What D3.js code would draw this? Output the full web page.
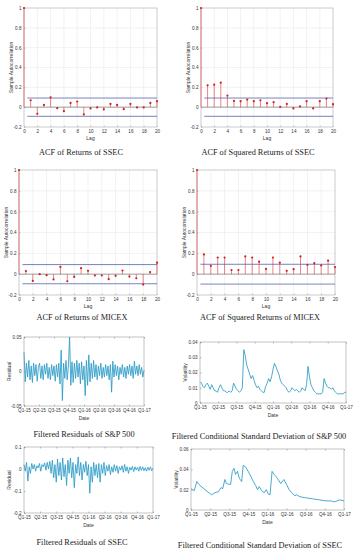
<!DOCTYPE html>
<html>
<head>
<meta charset="utf-8">
<script src="https://cdn.jsdelivr.net/npm/d3@7"></script>
<style>
  body { margin: 0; background: #fff; }
  svg { display: block; }
  .tick text { font-family: "Liberation Sans", Arial, sans-serif; font-size: 4.6px; fill: #333; }
  .lab { font-family: "Liberation Sans", Arial, sans-serif; font-size: 5px; fill: #333; }
  .title { font-family: "Liberation Serif", "Times New Roman", serif; font-size: 8.3px; fill: #222; }
</style>
</head>
<body>
<svg id="chart"></svg>
<script>
// Chart size
const width = 355;
const height = 550;

// ACF values for lags 0..20
const lags = d3.range(0, 21);
const acfRetSSEC = [1, 0.07, -0.067, 0.023, 0.10, -0.01, -0.04, 0.043, 0.057, -0.073, -0.013,
  -0.003, -0.023, 0.033, 0.023, -0.02, 0.033, -0.003, -0.003, 0.043, 0.06];
const acfSqSSEC = [1, 0.22, 0.227, 0.247, 0.117, 0.063, 0.06, 0.077, 0.06, 0.07, 0.04,
  0.05, 0.003, 0.033, -0.013, 0.007, 0.06, -0.013, 0.06, 0.087, 0.03];
const acfRetMICEX = [1, 0.03, -0.065, 0.0, -0.01, -0.05, 0.07, -0.068, -0.026, 0.058, 0.032,
  -0.013, -0.013, -0.048, -0.016, 0.035, -0.023, -0.039, -0.1, 0.02, 0.11];
const acfSqMICEX = [1, 0.19, 0.08, 0.16, 0.16, 0.04, 0.04, 0.17, 0.16, 0.12, 0.05,
  0.16, 0.11, 0.032, 0.048, 0.17, 0.09, 0.106, 0.084, 0.13, 0.068];
// confidence bounds of each ACF panel
const confBounds = [0.092, 0.092, 0.092, 0.095];

// Quarter tick labels
const quarterLabels = ["Q1-15", "Q2-15", "Q3-15", "Q4-15", "Q1-16", "Q2-16", "Q3-16", "Q4-16", "Q1-17"];

// Filtered residuals of S&P 500 (evenly spaced over the 8 quarters)
const residSP = [0.028, -0.015, 0.012, -0.008, 0.016, -0.012, 0.008, -0.016, 0.012, -0.006,
  0.010, -0.014, 0.006, 0.012, -0.010, 0.008, -0.012, 0.010, -0.004, 0.012,
  -0.010, 0.006, -0.012, 0.010, -0.006, 0.008, -0.014, 0.010, -0.008, 0.012,
  -0.018, 0.031, -0.042, 0.012, -0.010, 0.016, -0.012, 0.008, 0.050, -0.020,
  0.014, -0.016, 0.012, -0.010, 0.016, -0.008, 0.012, -0.018, 0.014, -0.012,
  0.008, -0.035, 0.016, -0.020, 0.024, -0.015, 0.012, -0.010, 0.016, -0.008,
  0.010, -0.012, 0.008, -0.006, 0.012, -0.010, 0.006, -0.008, 0.010, -0.006,
  0.008, -0.012, 0.010, -0.030, 0.015, -0.008, 0.010, -0.006, 0.008, -0.012,
  0.006, -0.004, 0.010, -0.008, 0.006, -0.010, 0.008, -0.004, 0.010, -0.006,
  0.008, -0.010, 0.015, -0.004, 0.008, -0.006, 0.010, -0.004, 0.006, -0.008, 0.002];

// Filtered conditional standard deviation of S&P 500
const volSP = [0.014, 0.013, 0.011, 0.010, 0.012, 0.013, 0.011, 0.009, 0.012, 0.010,
  0.008, 0.008, 0.007, 0.010, 0.012, 0.010, 0.008, 0.008, 0.007, 0.007,
  0.008, 0.007, 0.008, 0.013, 0.011, 0.009, 0.008, 0.007, 0.008, 0.010,
  0.035, 0.031, 0.025, 0.022, 0.019, 0.016, 0.018, 0.015, 0.012, 0.010,
  0.011, 0.009, 0.008, 0.007, 0.007, 0.011, 0.013, 0.016, 0.014, 0.017,
  0.022, 0.026, 0.024, 0.021, 0.019, 0.015, 0.013, 0.012, 0.011, 0.010,
  0.008, 0.007, 0.008, 0.010, 0.009, 0.008, 0.009, 0.008, 0.007, 0.008,
  0.010, 0.009, 0.008, 0.012, 0.024, 0.017, 0.012, 0.010, 0.008, 0.007,
  0.006, 0.006, 0.006, 0.006, 0.007, 0.016, 0.013, 0.011, 0.010, 0.010,
  0.009, 0.010, 0.008, 0.007, 0.006, 0.006, 0.006, 0.006, 0.006, 0.007, 0.007];

// Filtered residuals of SSEC
const residSSEC = [0.02, -0.01, 0.03, -0.055, 0.01, -0.02, 0.025, 0.0, 0.02, -0.01,
  0.015, 0.005, 0.025, -0.01, 0.02, 0.01, 0.028, -0.005, 0.03, 0.0,
  0.035, -0.02, 0.04, -0.04, 0.02, -0.06, 0.045, -0.03, 0.03, -0.05,
  0.05, -0.035, 0.02, -0.075, 0.04, -0.02, 0.05, -0.04, 0.03, -0.085,
  0.02, -0.02, 0.055, -0.03, 0.03, -0.05, 0.02, -0.015, 0.035, -0.03,
  0.02, -0.11, 0.01, -0.06, 0.03, -0.03, 0.02, -0.04, 0.025, -0.06,
  0.02, -0.02, 0.03, -0.03, 0.015, -0.01, 0.02, -0.025, 0.01, -0.015,
  0.02, -0.01, 0.015, -0.02, 0.01, -0.005, 0.015, -0.015, 0.02, -0.01,
  0.01, -0.02, 0.008, -0.005, 0.012, -0.012, 0.01, -0.005, 0.008, -0.01,
  0.012, -0.006, 0.01, -0.008, 0.006, -0.01, 0.008, -0.006, 0.01, -0.008, 0.004];

// Filtered conditional standard deviation of SSEC (time in quarters, value)
const volSSECt = [0, 0.17, 0.3, 0.42, 0.73, 1.0, 1.08, 1.25, 1.43, 1.57, 1.66, 1.77, 1.85,
  2.07, 2.16, 2.25, 2.33, 2.43, 2.53, 2.65, 2.73, 2.87, 3.08, 3.26, 3.38, 3.48, 3.57,
  3.69, 3.83, 3.94, 4.03, 4.13, 4.24, 4.35, 4.44, 4.56, 4.69, 4.86, 5.0, 5.13, 5.26,
  5.43, 5.52, 5.7, 6.0, 6.35, 6.7, 7.05, 7.3, 7.5, 7.78, 8.0];
const volSSECv = [0.021, 0.019, 0.028, 0.025, 0.020, 0.016, 0.015, 0.017, 0.018, 0.022, 0.021, 0.030, 0.026,
  0.025, 0.038, 0.041, 0.035, 0.038, 0.031, 0.028, 0.044, 0.042, 0.035, 0.028, 0.024, 0.020, 0.023,
  0.019, 0.017, 0.020, 0.016, 0.015, 0.038, 0.035, 0.033, 0.030, 0.026, 0.030, 0.025, 0.020, 0.017,
  0.014, 0.015, 0.013, 0.012, 0.011, 0.010, 0.009, 0.009, 0.008, 0.010, 0.009];

const svg = d3.select("#chart")
  .attr("width", width)
  .attr("height", height);

// Draw one ACF stem panel
function acfPanel(p, values, bound, title) {
  const x = d3.scaleLinear().domain([0, 20]).range([p.x0, p.x1]);
  const y = d3.scaleLinear().domain([-0.2, 1]).range([p.y1, p.y0]);
  const g = svg.append("g");
  const yTicks = [-0.2, 0, 0.2, 0.4, 0.6, 0.8, 1];
  const xTicks = d3.range(0, 21, 2);

  // grid
  g.selectAll(".gx").data(xTicks).enter().append("line")
    .attr("x1", d => x(d)).attr("x2", d => x(d))
    .attr("y1", p.y0).attr("y2", p.y1)
    .attr("stroke", "#e4e4e4").attr("stroke-width", 0.5);
  g.selectAll(".gy").data(yTicks).enter().append("line")
    .attr("x1", p.x0).attr("x2", p.x1)
    .attr("y1", d => y(d)).attr("y2", d => y(d))
    .attr("stroke", "#e4e4e4").attr("stroke-width", 0.5);

  // axes
  g.append("g").attr("transform", `translate(0,${p.y1})`)
    .call(d3.axisBottom(x).tickValues(xTicks).tickSize(-1.5).tickPadding(2.5).tickFormat(d => String(d)))
    .call(a => a.select(".domain").remove())
    .call(a => a.selectAll("line").attr("stroke", "#888").attr("stroke-width", 0.4));
  g.append("g").attr("transform", `translate(${p.x0},0)`)
    .call(d3.axisLeft(y).tickValues(yTicks).tickSize(-1.5).tickPadding(2.5).tickFormat(d => String(d)))
    .call(a => a.select(".domain").remove())
    .call(a => a.selectAll("line").attr("stroke", "#888").attr("stroke-width", 0.4));

  g.append("rect")
    .attr("x", p.x0).attr("y", p.y0)
    .attr("width", p.x1 - p.x0).attr("height", p.y1 - p.y0)
    .attr("fill", "none").attr("stroke", "#aaa").attr("stroke-width", 0.5);

  // zero line and confidence bounds
  g.append("line")
    .attr("x1", x(0)).attr("x2", x(20)).attr("y1", y(0)).attr("y2", y(0))
    .attr("stroke", "#666").attr("stroke-width", 0.6);
  [bound, -bound].forEach(b => {
    g.append("line")
      .attr("x1", x(0.5)).attr("x2", x(20)).attr("y1", y(b)).attr("y2", y(b))
      .attr("stroke", "#5565a8").attr("stroke-width", 0.8);
  });

  // stems
  g.selectAll(".stem").data(values).enter().append("line")
    .attr("x1", (d, i) => x(lags[i])).attr("x2", (d, i) => x(lags[i]))
    .attr("y1", y(0)).attr("y2", d => y(d))
    .attr("stroke", "#e03030").attr("stroke-width", 0.6);
  g.selectAll(".dot").data(values).enter().append("circle")
    .attr("cx", (d, i) => x(lags[i])).attr("cy", d => y(d))
    .attr("r", 1.1).attr("fill", "#d21f1f");

  g.append("text").attr("class", "lab")
    .attr("transform", `translate(${p.x0 - 11},${(p.y0 + p.y1) / 2}) rotate(-90)`)
    .attr("text-anchor", "middle").text("Sample Autocorrelation");
  g.append("text").attr("class", "lab")
    .attr("x", (p.x0 + p.x1) / 2).attr("y", p.y1 + 13)
    .attr("text-anchor", "middle").text("Lag");
  svg.append("text").attr("class", "title")
    .attr("x", p.tx).attr("y", p.ty)
    .attr("text-anchor", "middle").text(title);
}

// Draw one time series panel
function seriesPanel(p, ts, values, yDomain, yTicks, yLabel, title) {
  const x = d3.scaleLinear().domain([0, 8]).range([p.x0, p.x1]);
  const y = d3.scaleLinear().domain(yDomain).range([p.y1, p.y0]);
  const g = svg.append("g");

  g.append("g").attr("transform", `translate(0,${p.y1})`)
    .call(d3.axisBottom(x).ticks(8).tickSize(-1.5).tickPadding(2.5).tickFormat((d, i) => quarterLabels[i]))
    .call(a => a.select(".domain").remove())
    .call(a => a.selectAll("line").attr("stroke", "#555").attr("stroke-width", 0.4));
  g.append("g").attr("transform", `translate(0,${p.y0})`)
    .call(d3.axisTop(x).ticks(8).tickSize(-1.5).tickFormat(""))
    .call(a => a.select(".domain").remove())
    .call(a => a.selectAll("line").attr("stroke", "#555").attr("stroke-width", 0.4));
  g.append("g").attr("transform", `translate(${p.x0},0)`)
    .call(d3.axisLeft(y).tickValues(yTicks).tickSize(-1.5).tickPadding(2.5).tickFormat(d => String(d)))
    .call(a => a.select(".domain").remove())
    .call(a => a.selectAll("line").attr("stroke", "#555").attr("stroke-width", 0.4));

  const line = d3.line()
    .x((d, i) => x(ts[i]))
    .y(d => y(d));
  g.append("path")
    .datum(values)
    .attr("d", line)
    .attr("fill", "none")
    .attr("stroke", "#2a9bc6")
    .attr("stroke-width", 0.85)
    .attr("stroke-linejoin", "round");

  g.append("rect")
    .attr("x", p.x0).attr("y", p.y0)
    .attr("width", p.x1 - p.x0).attr("height", p.y1 - p.y0)
    .attr("fill", "none").attr("stroke", "#888").attr("stroke-width", 0.5);

  g.append("text").attr("class", "lab")
    .attr("transform", `translate(${p.x0 - 13},${(p.y0 + p.y1) / 2}) rotate(-90)`)
    .attr("text-anchor", "middle").text(yLabel);
  g.append("text").attr("class", "lab")
    .attr("x", (p.x0 + p.x1) / 2).attr("y", p.y1 + 14)
    .attr("text-anchor", "middle").text("Date");
  svg.append("text").attr("class", "title")
    .attr("x", p.tx).attr("y", p.ty)
    .attr("text-anchor", "middle").text(title);
}

const evenT = n => d3.range(n).map(i => i * 8 / (n - 1));

acfPanel({x0: 24, x1: 157, y0: 8, y1: 127, tx: 81, ty: 155}, acfRetSSEC, confBounds[0], "ACF of Returns of SSEC");
acfPanel({x0: 201, x1: 333, y0: 8, y1: 127, tx: 258, ty: 155}, acfSqSSEC, confBounds[1], "ACF of Squared Returns of SSEC");
acfPanel({x0: 19, x1: 157, y0: 170, y1: 295, tx: 82, ty: 320}, acfRetMICEX, confBounds[2], "ACF of Returns of MICEX");
acfPanel({x0: 197, x1: 335, y0: 170, y1: 295, tx: 260, ty: 320}, acfSqMICEX, confBounds[3], "ACF of Squared Returns of MICEX");

seriesPanel({x0: 24, x1: 144, y0: 337, y1: 406, tx: 84, ty: 437}, evenT(residSP.length), residSP,
  [-0.05, 0.05], [-0.05, 0, 0.05], "Residual", "Filtered Residuals of S&P 500");
seriesPanel({x0: 200, x1: 346, y0: 342, y1: 403, tx: 259, ty: 439}, evenT(volSP.length), volSP,
  [0, 0.04], [0, 0.01, 0.02, 0.03, 0.04], "Volatility", "Filtered Conditional Standard Deviation of S&P 500");
seriesPanel({x0: 24, x1: 153, y0: 447, y1: 513, tx: 82, ty: 545}, evenT(residSSEC.length), residSSEC,
  [-0.2, 0.1], [-0.2, -0.1, 0, 0.1], "Residual", "Filtered Residuals of SSEC");
seriesPanel({x0: 191, x1: 344, y0: 449, y1: 510, tx: 260, ty: 548}, volSSECt, volSSECv,
  [0, 0.06], [0, 0.02, 0.04, 0.06], "Volatility", "Filtered Conditional Standard Deviation of SSEC");
</script>
</body>
</html>
